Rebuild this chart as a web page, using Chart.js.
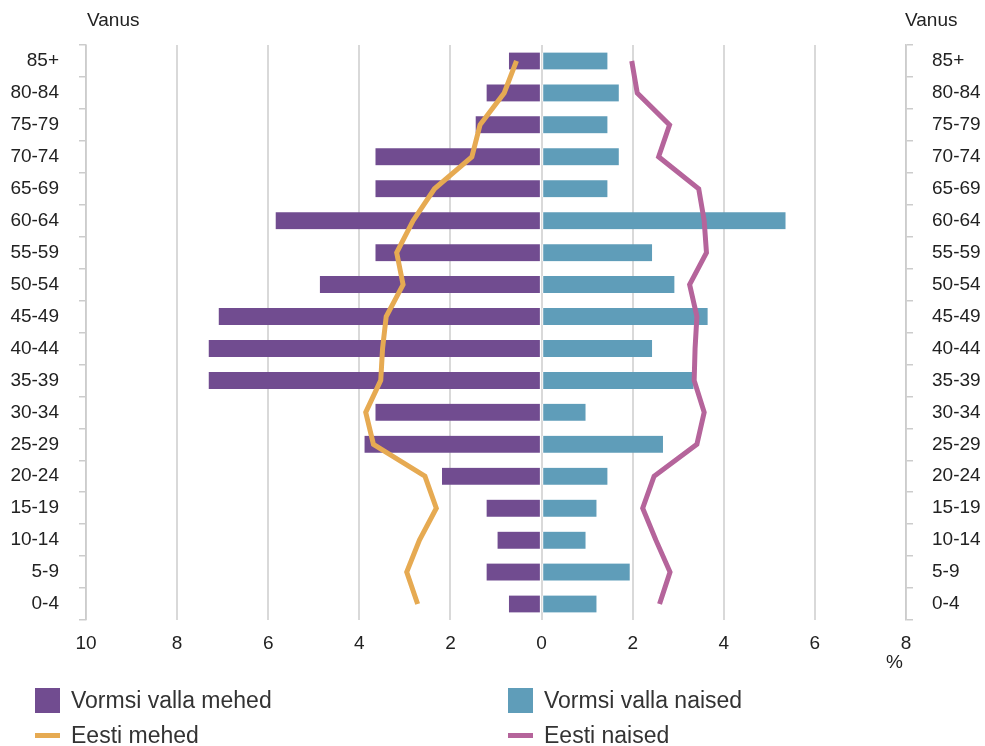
<!DOCTYPE html>
<html>
<head>
<meta charset="utf-8">
<script src="https://cdn.jsdelivr.net/npm/chart.js@4.4.1/dist/chart.umd.min.js"></script>
<style>
    body { margin: 0; background: #fff; font-family: "Liberation Sans", Arial, sans-serif; }
    #wrap { position: relative; width: 985px; height: 746px; }
    #legend { position: absolute; left: 0; top: 0; width: 985px; height: 746px; pointer-events: none; }
    .item { position: absolute; display: flex; align-items: center; font-size: 23px; color: #333; }
    .swatch { width: 25px; margin-right: 11px; }
</style>
</head>
<body>
<div id="wrap">
    <canvas id="myChart"></canvas>
    <div id="legend"></div>
</div>
<script>
const ageGroups = ['85+', '80-84', '75-79', '70-74', '65-69', '60-64', '55-59', '50-54', '45-49',
    '40-44', '35-39', '30-34', '25-29', '20-24', '15-19', '10-14', '5-9', '0-4'];
const vormsiMen = [0.73, 1.22, 1.46, 3.66, 3.66, 5.85, 3.66, 4.88, 7.1, 7.32, 7.32, 3.66, 3.9, 2.2, 1.22, 0.98, 1.22, 0.73];
const vormsiWomen = [1.46, 1.71, 1.46, 1.71, 1.46, 5.37, 2.44, 2.93, 3.66, 2.44, 3.35, 0.98, 2.68, 1.46, 1.22, 0.98, 1.95, 1.22];
const eestiMen = [0.55, 0.82, 1.35, 1.53, 2.35, 2.82, 3.18, 3.04, 3.41, 3.49, 3.53, 3.86, 3.69, 2.56, 2.31, 2.68, 2.96, 2.72];
const eestiWomen = [1.98, 2.1, 2.81, 2.57, 3.45, 3.57, 3.62, 3.25, 3.41, 3.37, 3.35, 3.57, 3.41, 2.47, 2.22, 2.51, 2.82, 2.59];
const xTicks = [-10, -8, -6, -4, -2, 0, 2, 4, 6, 8];

const FONT = '"Liberation Sans", Arial, sans-serif';
const colors = { men: '#714c90', women: '#5f9db9', eMen: '#e6aa52', eWomen: '#b5649b' };

const extraText = {
    id: 'extraText',
    afterDraw(chart) {
        const ctx = chart.ctx;
        ctx.save();
        ctx.fillStyle = '#222';
        ctx.font = '19px ' + FONT;
        ctx.textBaseline = 'middle';
        ctx.textAlign = 'left';
        ctx.fillText('Vanus', 87, 21);
        ctx.fillText('Vanus', 905, 21);
        ctx.fillText('%', 886, 663);
        ctx.restore();
    }
};

const ctx = document.getElementById('myChart').getContext('2d');
const myChart = new Chart(ctx, {
    data: {
        labels: ageGroups,
        datasets: [
            {
                type: 'line', label: 'Eesti mehed', data: eestiMen.map(v => -v),
                borderColor: colors.eMen, backgroundColor: colors.eMen,
                borderWidth: 5, pointRadius: 0, tension: 0, order: 0
            },
            {
                type: 'line', label: 'Eesti naised', data: eestiWomen,
                borderColor: colors.eWomen, backgroundColor: colors.eWomen,
                borderWidth: 5, pointRadius: 0, tension: 0, order: 0
            },
            {
                type: 'bar', label: 'Vormsi valla mehed', data: vormsiMen.map(v => -v),
                backgroundColor: colors.men, borderColor: '#fff',
                borderWidth: { left: 1, right: 1, top: 0, bottom: 0 }, borderSkipped: false,
                barThickness: 17, grouped: false, order: 1
            },
            {
                type: 'bar', label: 'Vormsi valla naised', data: vormsiWomen,
                backgroundColor: colors.women, borderColor: '#fff',
                borderWidth: { left: 1, right: 1, top: 0, bottom: 0 }, borderSkipped: false,
                barThickness: 17, grouped: false, order: 1
            }
        ]
    },
    options: {
        indexAxis: 'y',
        responsive: true,
        maintainAspectRatio: false,
        animation: false,
        layout: { padding: { top: 45, bottom: 86, left: 0, right: 0 } },
        plugins: { legend: { display: false }, tooltip: { enabled: false } },
        scales: {
            x: {
                min: -10, max: 8,
                afterBuildTicks: scale => { scale.ticks = xTicks.map(v => ({ value: v })); },
                afterFit: scale => { scale.height = 40; },
                ticks: {
                    callback: v => Math.abs(v),
                    color: '#222', font: { size: 19, family: FONT }, padding: 12
                },
                grid: { color: '#d9d9d9', lineWidth: 2, drawTicks: false },
                border: { display: false }
            },
            y: {
                type: 'category', labels: ageGroups, position: 'left', offset: true,
                afterFit: scale => { scale.width = 86; },
                ticks: { color: '#222', font: { size: 19, family: FONT }, padding: 20 },
                grid: { offset: true, drawOnChartArea: false, tickLength: 7, color: '#cccccc', lineWidth: 1.5 },
                border: { color: '#cccccc', width: 1.5 }
            },
            y2: {
                type: 'category', labels: ageGroups, position: 'right', offset: true,
                afterFit: scale => { scale.width = 79; },
                ticks: { color: '#222', font: { size: 19, family: FONT }, padding: 19 },
                grid: { offset: true, drawOnChartArea: false, tickLength: 7, color: '#cccccc', lineWidth: 1.5 },
                border: { color: '#cccccc', width: 1.5 }
            }
        }
    },
    plugins: [extraText]
});

// legend in two columns, built from the datasets
const legendPos = {
    'Vormsi valla mehed': [35, 700],
    'Vormsi valla naised': [508, 700],
    'Eesti mehed': [35, 735],
    'Eesti naised': [508, 735]
};
const legend = document.getElementById('legend');
myChart.data.datasets.forEach(ds => {
    const pos = legendPos[ds.label];
    const item = document.createElement('div');
    item.className = 'item';
    item.style.left = pos[0] + 'px';
    item.style.top = (pos[1] - 14) + 'px';
    item.style.height = '28px';
    const h = ds.type === 'bar' ? 25 : 5;
    item.innerHTML = `<span class="swatch" style="height:${h}px;background:${ds.backgroundColor}"></span><span>${ds.label}</span>`;
    legend.appendChild(item);
});
</script>
</body>
</html>
